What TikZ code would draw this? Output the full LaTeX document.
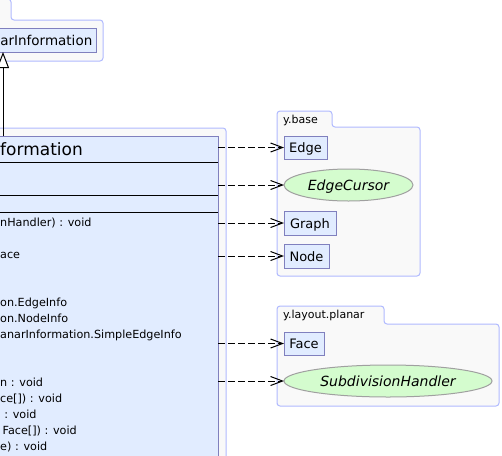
\documentclass[tikz,border=0pt]{standalone}
\usepackage{fontspec}
\setmainfont{DejaVu Sans}[ItalicFont={DejaVu Sans Oblique},BoldFont={DejaVu Sans Bold}]
\usetikzlibrary{arrows.meta,shapes.geometric}
\definecolor{clsfill}{RGB}{225,236,255}
\definecolor{clsdraw}{RGB}{128,128,190}
\definecolor{pkgdraw}{RGB}{176,186,255}
\definecolor{pkgfill}{RGB}{249,249,249}
\definecolor{ifcfill}{RGB}{212,252,206}
\definecolor{ifcdraw}{RGB}{160,160,160}
\tikzset{
  pkg/.style={draw=pkgdraw, fill=pkgfill, line width=1pt, rounded corners=3pt},
  clsbox/.style={draw=clsdraw, fill=clsfill, line width=1pt, inner sep=0pt, outer sep=0pt},
  cls/.style={clsbox, font=\fontsize{13}{15}\selectfont, text height=10pt, text depth=0pt},
  ifc/.style={ellipse, draw=ifcdraw, fill=ifcfill, line width=1pt, inner sep=0pt, outer sep=0pt,
    font=\fontsize{14}{16}\selectfont\itshape, text height=10pt, text depth=0pt},
  mem/.style={anchor=base west, inner sep=0pt, font=\fontsize{11.2}{13}\selectfont},
  memr/.style={anchor=base east, inner sep=0pt, font=\fontsize{11.2}{13}\selectfont},
  tablabel/.style={anchor=base west, inner sep=0pt, font=\fontsize{11}{13}\selectfont},
  sepline/.style={line width=1pt, black},
  dep/.style={line width=1pt, dash pattern=on 7pt off 3pt, -{Straight Barb[length=12pt,width=9pt]}},
  inherit/.style={line width=1pt, -{Triangle[open,length=16pt,width=12pt,fill=white]}}
}
\begin{document}
\begin{tikzpicture}[x=1pt,y=-1pt]
\useasboundingbox (0,0) rectangle (502,455);
\clip (0,0) rectangle (502,455);
\fill[white] (0,0) rectangle (502,455);

% packages
\draw[pkg] (-10,61) |- (11,-1) |- (103,20) |- cycle;
\draw[pkg] (-10,470) rectangle (226,128);
\draw[pkg] (277,276) |- (332,111) |- (420,127) |- cycle;
\draw[pkg] (277,406) |- (384,306) |- (499,324) |- cycle;
\node[tablabel] (tabbase) at (283,123.3) {y.base};
\node[tablabel] (tabplanar) at (283,318) {y.layout.planar};

% super class
\node[clsbox, anchor=north west, minimum width=106pt, minimum height=24pt] (sup) at (-10,28) {};
\node[anchor=base east, inner sep=0pt, font=\fontsize{13.5}{15}\selectfont] (supname) at (92.5,45) {arInformation};

% main class
\node[clsbox, anchor=north west, minimum width=228pt, minimum height=334pt] (main) at (-10,136) {};
\node[anchor=base west, inner sep=0pt, font=\fontsize{17}{19}\selectfont] (title) at (0,155) {formation};
\coordinate (s1) at (0,162);
\coordinate (s2) at (0,195);
\coordinate (s3) at (0,212);
\draw[sepline] (main.west |- s1) -- (main.east |- s1);
\draw[sepline] (main.west |- s2) -- (main.east |- s2);
\draw[sepline] (main.west |- s3) -- (main.east |- s3);

\node[mem] (m1) at (0,226) {nHandler) : void};
\node[mem] (m2) at (0,258) {ace};
\node[mem] (m3) at (0,306) {on.EdgeInfo};
\node[mem] (m4) at (0,322) {on.NodeInfo};
\node[mem] (m5) at (0,338) {anarInformation.SimpleEdgeInfo};
\node[mem] (m6) at (0,386) {n : void};
\node[mem] (m7) at (0,402) {ce[]) : void};
\node[memr] (m8) at (36.7,418) {: void};
\node[memr] (m9) at (77,434) {Face[]) : void};
\node[mem] (m10) at (0,450) {e) : void};

% inheritance
\coordinate (inh) at (3,0);
\draw[inherit] (main.north -| inh) -- (sup.south -| inh);

% y.base classes
\node[cls, minimum width=43pt, minimum height=23pt] (edge) at (305.5,147.5) {Edge};
\node[ifc, minimum width=129pt, minimum height=32pt] (edgecursor) at (348.5,185) {EdgeCursor};
\node[cls, minimum width=52pt, minimum height=24pt] (graph) at (310,223) {Graph};
\node[cls, minimum width=45pt, minimum height=24pt] (nodecls) at (306.5,256) {Node};

% y.layout.planar classes
\node[cls, minimum width=40pt, minimum height=23pt] (face) at (304,343.5) {Face};
\node[ifc, minimum width=208pt, minimum height=32pt] (subdiv) at (388,381) {SubdivisionHandler};

% dependencies
\draw[dep] (main.east |- edge.west) -- (edge.west);
\draw[dep] (main.east |- edgecursor.west) -- (edgecursor.west);
\draw[dep] (main.east |- graph.west) -- (graph.west);
\draw[dep] (main.east |- nodecls.west) -- (nodecls.west);
\draw[dep] (main.east |- face.west) -- (face.west);
\draw[dep] (main.east |- subdiv.west) -- (subdiv.west);
\end{tikzpicture}
\end{document}
